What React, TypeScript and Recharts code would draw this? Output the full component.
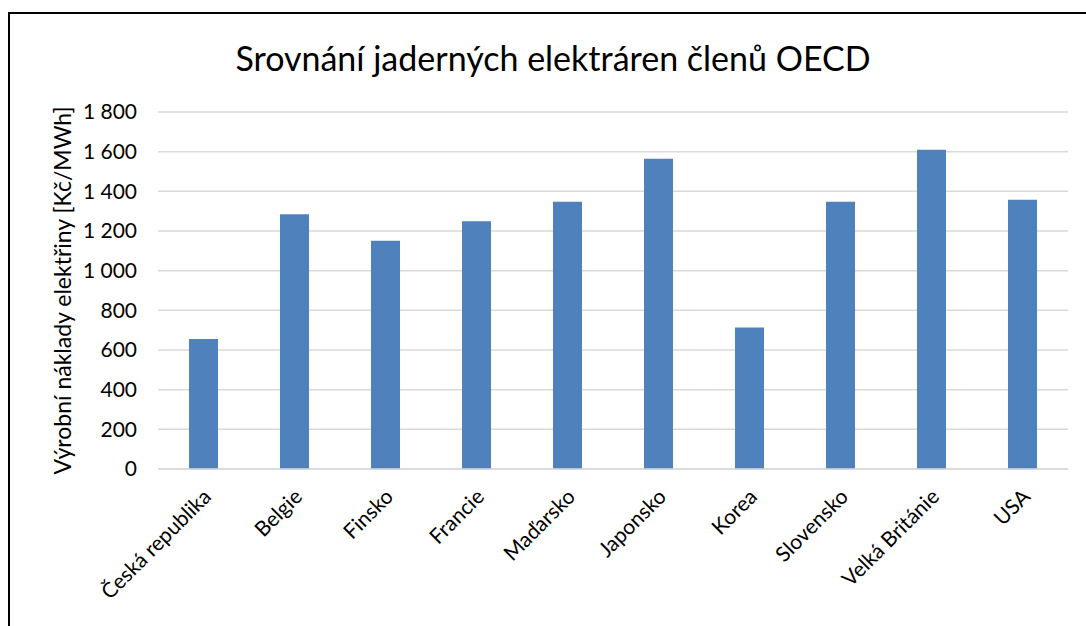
import React from 'react';
import { BarChart, Bar, XAxis, YAxis, CartesianGrid } from 'recharts';

const countries = [
  'Česká republika',
  'Belgie',
  'Finsko',
  'Francie',
  'Maďarsko',
  'Japonsko',
  'Korea',
  'Slovensko',
  'Velká Británie',
  'USA',
];
const costs = [655, 1285, 1151, 1249, 1347, 1564, 714, 1347, 1610, 1357];
const yTicks = [0, 200, 400, 600, 800, 1000, 1200, 1400, 1600, 1800];

const chartData = countries.map((name, i) => ({ name, cost: costs[i] }));

const FONT = 'Lato, "Open Sans", sans-serif';

// thousands separated by a space, as in the Czech original
const formatTick = (v: number) => String(v).replace(/\B(?=(\d{3})+(?!\d))/g, ' ');

const CountryTick = (props: any) => {
  const { x, y, payload } = props;
  return (
    <g transform={`translate(${x + 9},${y + 29}) rotate(-45)`}>
      <text x={0} y={0} textAnchor="end" fill="#000" fontSize={21} fontFamily={FONT}>
        {payload.value}
      </text>
    </g>
  );
};

export default function App() {
  return (
    <div
      style={{
        position: 'absolute',
        left: 8,
        top: 12,
        width: 1076,
        height: 614,
        borderLeft: '2px solid #000',
        borderTop: '2px solid #000',
        background: '#fff',
        overflow: 'hidden',
      }}
    >
      <div
        style={{
          position: 'absolute',
          top: 23,
          left: 0,
          width: 1086,
          textAlign: 'center',
          fontFamily: FONT,
          fontSize: 34,
          color: '#000',
        }}
      >
        Srovnání jaderných elektráren členů OECD
      </div>
      <BarChart
        width={1076}
        height={612}
        data={chartData}
        margin={{ top: 98, right: 18, left: 44, bottom: 0 }}
        barSize={29}
      >
        <CartesianGrid vertical={false} stroke="#d9d9d9" strokeWidth={1.5} />
        <XAxis
          dataKey="name"
          interval={0}
          height={157}
          tickLine={false}
          tickSize={0}
          tickMargin={0}
          axisLine={{ stroke: '#d9d9d9', strokeWidth: 1.5 }}
          tick={<CountryTick />}
        />
        <YAxis
          width={104}
          domain={[0, 1800]}
          ticks={yTicks}
          interval={0}
          axisLine={false}
          tickLine={false}
          tickSize={0}
          tickMargin={21}
          tickFormatter={formatTick}
          tick={{ fill: '#000', fontSize: 21, fontFamily: FONT }}
          label={{
            value: 'Výrobní náklady elektřiny [Kč/MWh]',
            angle: -90,
            position: 'insideLeft',
            offset: 9,
            style: { fill: '#000', fontSize: 23, fontFamily: FONT, textAnchor: 'middle' },
          }}
        />
        <Bar dataKey="cost" fill="#4f81bd" isAnimationActive={false} />
      </BarChart>
    </div>
  );
}
